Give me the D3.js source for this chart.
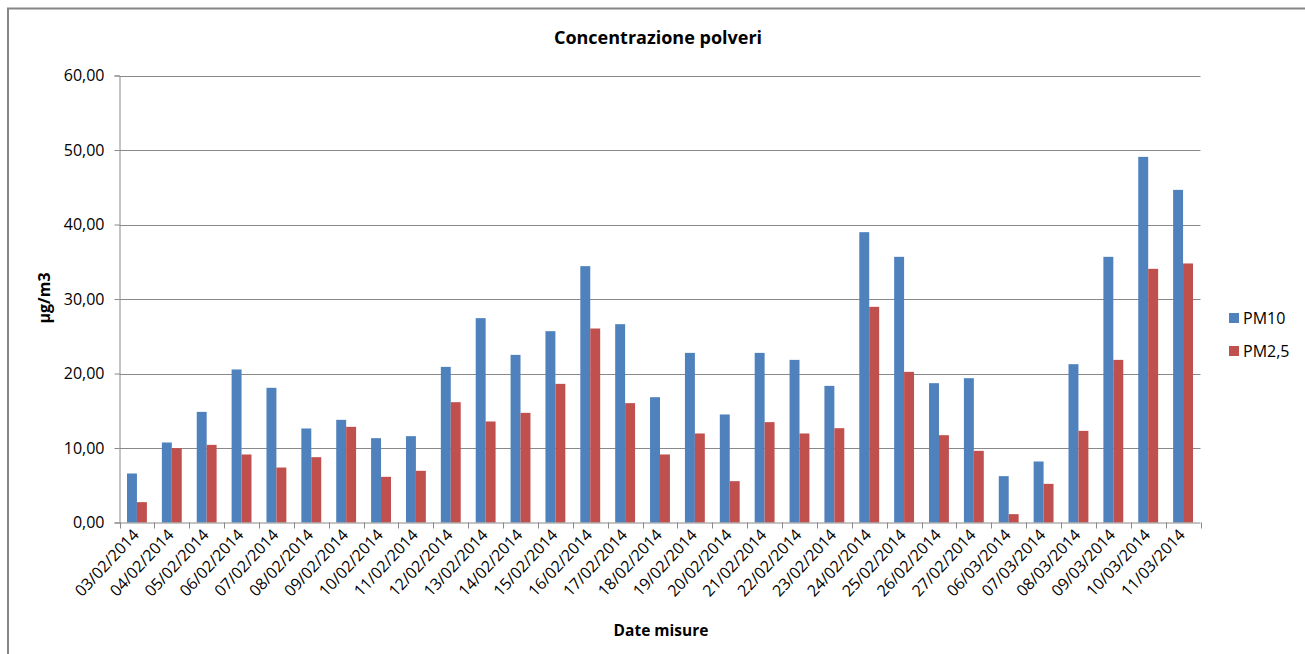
<!DOCTYPE html>
<html>
<head>
<meta charset="utf-8">
<script src="https://cdn.jsdelivr.net/npm/d3@7"></script>
<style>
  body { margin: 0; background: #fff; }
  svg text { font-family: "Open Sans", "Noto Sans", sans-serif; fill: #000; }
</style>
</head>
<body>
<svg id="chart" width="1305" height="654"></svg>
<script>
const categories = ["03/02/2014","04/02/2014","05/02/2014","06/02/2014","07/02/2014","08/02/2014","09/02/2014","10/02/2014","11/02/2014","12/02/2014","13/02/2014","14/02/2014","15/02/2014","16/02/2014","17/02/2014","18/02/2014","19/02/2014","20/02/2014","21/02/2014","22/02/2014","23/02/2014","24/02/2014","25/02/2014","26/02/2014","27/02/2014","06/03/2014","07/03/2014","08/03/2014","09/03/2014","10/03/2014","11/03/2014"];
const pm10 = [6.58,10.74,14.85,20.54,18.08,12.62,13.78,11.32,11.59,20.89,27.43,22.50,25.68,34.41,26.62,16.82,22.77,14.50,22.77,21.83,18.34,38.97,35.66,18.70,19.37,6.22,8.19,21.25,35.66,49.08,44.65];
const pm25 = [2.73,9.98,10.42,9.13,7.38,8.77,12.84,6.13,6.94,16.15,13.56,14.72,18.61,26.04,16.02,9.13,11.95,5.55,13.47,11.95,12.66,28.95,20.22,11.72,9.62,1.12,5.19,12.30,21.83,34.05,34.77];
const seriesNames = ["PM10","PM2,5"];
const seriesColors = ["#4F81BD","#C0504D"];
const yTicks = [0,10,20,30,40,50,60];
const title = "Concentrazione polveri";
const yTitle = "µg/m3";
const xTitle = "Date misure";

const svg = d3.select("#chart");
const pLeft = 119.5, pRight = 1200.5, pTop = 75.5, pBottom = 522.5;

// outer frame
svg.append("path").attr("d", "M8,660 L8,8.5 L1310,8.5")
  .attr("fill","none").attr("stroke","#868686").attr("stroke-width",2);

const x = d3.scaleBand().domain(categories).range([pLeft, pRight]).paddingInner(0.43).paddingOuter(0.215);
const xs = d3.scaleBand().domain(seriesNames).range([0, x.bandwidth()]);
const y = d3.scaleLinear().domain([0, 60]).range([pBottom, pTop]);

// gridlines
svg.append("g").selectAll("line").data(yTicks.filter(d => d > 0)).join("line")
  .attr("x1", pLeft).attr("x2", pRight)
  .attr("y1", d => Math.round(y(d)) + 0.5).attr("y2", d => Math.round(y(d)) + 0.5)
  .attr("stroke", "#898989").attr("stroke-width", 1);

// bars
const data = categories.map((c, i) => ({c, vals: [pm10[i], pm25[i]]}));
const g = svg.append("g");
data.forEach(d => {
  d.vals.forEach((v, j) => {
    g.append("rect")
      .attr("x", x(d.c) + xs(seriesNames[j]))
      .attr("width", xs.bandwidth())
      .attr("y", y(v))
      .attr("height", y(0) - y(v))
      .attr("fill", seriesColors[j]);
  });
});

// y axis
const yAxis = d3.axisLeft(y).tickValues(yTicks).tickSize(5).tickPadding(10)
  .tickFormat(d => d3.format(".2f")(d).replace(".", ","));
const ya = svg.append("g").attr("transform", `translate(${pLeft},0)`).call(yAxis);
ya.select(".domain").attr("stroke", "#898989");
ya.selectAll(".tick line").attr("stroke", "#898989");
ya.selectAll(".tick text").attr("font-size", 16).attr("fill", "#000").attr("font-family", "'Open Sans', sans-serif");

// x axis
const xAxis = d3.axisBottom(x).tickSize(0).tickFormat("");
const xa = svg.append("g").attr("transform", `translate(0,${pBottom})`).call(xAxis);
xa.select(".domain").attr("stroke", "#898989").attr("d", `M${pLeft},0.5H${pRight}`);
const bounds = d3.range(categories.length + 1).map(i => pLeft + i * (pRight - pLeft) / categories.length);
xa.selectAll(".bnd").data(bounds).join("line").attr("class","bnd")
  .attr("x1", d => Math.round(d) + 0.5).attr("x2", d => Math.round(d) + 0.5)
  .attr("y1", 0).attr("y2", 6).attr("stroke", "#898989");
xa.selectAll(".lbl").data(categories).join("text").attr("class","lbl")
  .attr("transform", d => `translate(${x(d) + x.bandwidth()/2 + 3},${13}) rotate(-47)`)
  .attr("text-anchor", "end")
  .attr("font-size", 16)
  .text(d => d);

// title
svg.append("text").attr("x", 658).attr("y", 44).attr("text-anchor", "middle")
  .attr("font-size", 18).attr("font-weight", "bold").text(title);
// y title
svg.append("text").attr("transform", "translate(50,298) rotate(-90)").attr("text-anchor","middle")
  .attr("font-size", 16).attr("font-weight", "bold").text(yTitle);
// x title
svg.append("text").attr("x", 661).attr("y", 636).attr("text-anchor","middle")
  .attr("font-size", 15.5).attr("font-weight", "bold").text(xTitle);

// legend
const lg = svg.append("g");
seriesNames.forEach((n, i) => {
  lg.append("rect").attr("x", 1229).attr("y", 313 + i*33).attr("width", 10).attr("height", 10).attr("fill", seriesColors[i]);
  lg.append("text").attr("x", 1243).attr("y", 324 + i*33).attr("font-size", 16).text(n);
});
</script>
</body>
</html>
